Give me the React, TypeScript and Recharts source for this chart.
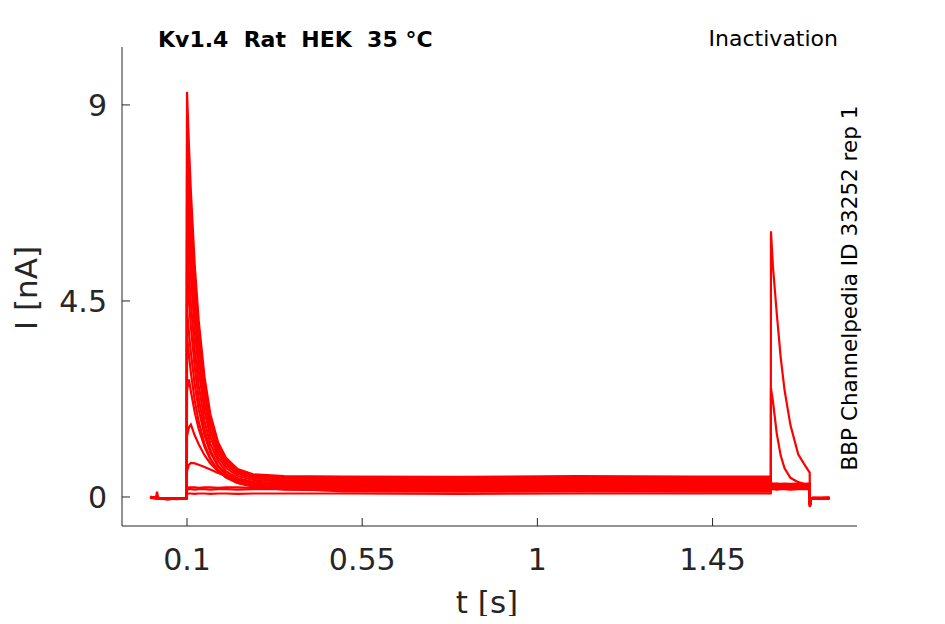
import { Line, LineChart, XAxis, YAxis } from "recharts";

// sample times [s]: baseline, prepulse, test pulse, return
const TIME = [
  0.005, 0.02, 0.023, 0.026, 0.05, 0.075, 0.0995,
  0.1, 0.105, 0.11, 0.12, 0.13, 0.145, 0.16, 0.18, 0.2, 0.23, 0.27, 0.35, 0.5, 0.8, 1.1, 1.4, 1.5995,
  1.6, 1.605, 1.615, 1.625, 1.635, 1.65, 1.67, 1.685, 1.6995,
  1.7, 1.703, 1.707, 1.75,
];

// current sweeps [nA]
const SWEEP_1 = [
  0.01, -0.02, 0.12, -0.03, -0.04, -0.03, -0.02,
  9.3, 8.05, 7.0, 5.3, 4.05, 2.75, 1.9, 1.25, 0.9, 0.64, 0.52, 0.48, 0.47, 0.46, 0.48, 0.47, 0.47,
  0.32, 0.31, 0.31, 0.3, 0.31, 0.3, 0.31, 0.3, 0.31,
  -0.22, -0.05, -0.03, -0.02,
];
const SWEEP_2 = [
  0.0, -0.03, -0.03, -0.03, -0.05, -0.04, -0.03,
  8.7, 7.55, 6.55, 4.95, 3.78, 2.56, 1.78, 1.17, 0.85, 0.61, 0.49, 0.45, 0.44, 0.43, 0.45, 0.44, 0.44,
  0.29, 0.29, 0.3, 0.29, 0.29, 0.28, 0.29, 0.29, 0.29,
  -0.2, -0.04, -0.03, -0.03,
];
const SWEEP_3 = [
  -0.01, -0.02, -0.03, -0.04, -0.05, -0.03, -0.02,
  8.1, 7.0, 6.1, 4.6, 3.5, 2.38, 1.66, 1.09, 0.79, 0.57, 0.46, 0.42, 0.41, 0.4, 0.42, 0.41, 0.41,
  0.28, 0.28, 0.27, 0.28, 0.28, 0.27, 0.28, 0.28, 0.28,
  -0.21, -0.05, -0.02, -0.02,
];
const SWEEP_4 = [
  0.0, -0.01, -0.02, -0.02, -0.04, -0.04, -0.03,
  7.4, 6.4, 5.57, 4.21, 3.2, 2.17, 1.52, 1.0, 0.73, 0.53, 0.43, 0.39, 0.38, 0.37, 0.39, 0.38, 0.38,
  0.27, 0.27, 0.26, 0.27, 0.27, 0.26, 0.27, 0.27, 0.27,
  -0.18, -0.04, -0.03, -0.03,
];
const SWEEP_5 = [
  -0.02, -0.03, -0.02, -0.03, -0.04, -0.05, -0.03,
  6.7, 5.8, 5.04, 3.81, 2.9, 1.97, 1.38, 0.91, 0.67, 0.48, 0.39, 0.36, 0.35, 0.34, 0.36, 0.35, 0.35,
  0.26, 0.26, 0.25, 0.26, 0.26, 0.25, 0.26, 0.26, 0.26,
  -0.2, -0.05, -0.03, -0.02,
];
const SWEEP_6 = [
  0.0, -0.02, -0.02, -0.03, -0.03, -0.04, -0.02,
  5.9, 5.11, 4.44, 3.36, 2.56, 1.74, 1.22, 0.82, 0.59, 0.43, 0.35, 0.32, 0.32, 0.31, 0.33, 0.32, 0.32,
  0.25, 0.25, 0.24, 0.25, 0.25, 0.24, 0.25, 0.25, 0.25,
  -0.17, -0.04, -0.03, -0.03,
];
const SWEEP_7 = [
  -0.01, -0.02, -0.03, -0.03, -0.04, -0.03, -0.03,
  5.2, 4.5, 3.91, 2.96, 2.26, 1.54, 1.08, 0.72, 0.53, 0.39, 0.32, 0.29, 0.29, 0.28, 0.3, 0.29, 0.29,
  0.24, 0.24, 0.23, 0.24, 0.24, 0.23, 0.24, 0.24, 0.24,
  -0.19, -0.05, -0.02, -0.02,
];
const SWEEP_8 = [
  0.0, -0.02, -0.02, -0.02, -0.04, -0.04, -0.02,
  4.3, 3.77, 3.31, 2.57, 2.01, 1.41, 1.02, 0.69, 0.51, 0.37, 0.3, 0.26, 0.26, 0.25, 0.27, 0.26, 0.26,
  0.23, 0.23, 0.22, 0.23, 0.23, 0.22, 0.23, 0.23, 0.23,
  -0.16, -0.04, -0.03, -0.03,
];
const SWEEP_9 = [
  -0.01, -0.03, -0.03, -0.04, -0.05, -0.04, -0.03,
  3.7, 3.25, 2.85, 2.21, 1.73, 1.22, 0.88, 0.6, 0.45, 0.32, 0.26, 0.23, 0.23, 0.22, 0.24, 0.23, 0.23,
  0.22, 0.22, 0.21, 0.22, 0.22, 0.21, 0.22, 0.22, 0.22,
  -0.18, -0.05, -0.03, -0.02,
];
const SWEEP_10 = [
  0.0, -0.02, -0.02, -0.03, -0.03, -0.03, -0.02,
  2.45, 2.7, 2.42, 1.94, 1.56, 1.15, 0.86, 0.61, 0.45, 0.32, 0.24, 0.2, 0.19, 0.18, 0.2, 0.19, 0.19,
  0.21, 0.21, 0.2, 0.21, 0.21, 0.2, 0.21, 0.21, 0.21,
  -0.15, -0.04, -0.02, -0.03,
];
const SWEEP_11 = [
  -0.01, -0.02, -0.03, -0.03, -0.04, -0.04, -0.03,
  1.4, 1.6, 1.66, 1.41, 1.21, 0.96, 0.77, 0.59, 0.46, 0.33, 0.24, 0.17, 0.15, 0.14, 0.16, 0.15, 0.15,
  0.2, 0.2, 0.19, 0.2, 0.2, 0.19, 0.2, 0.2, 0.2,
  -0.17, -0.04, -0.03, -0.03,
];
const SWEEP_12 = [
  0.0, -0.02, -0.02, -0.02, -0.04, -0.03, -0.02,
  0.6, 0.74, 0.78, 0.77, 0.74, 0.69, 0.63, 0.55, 0.48, 0.39, 0.3, 0.2, 0.13, 0.12, 0.13, 0.12, 0.12,
  0.19, 0.19, 0.18, 0.19, 0.19, 0.18, 0.19, 0.19, 0.19,
  -0.14, -0.04, -0.03, -0.02,
];
const SWEEP_13 = [
  -0.01, -0.03, -0.02, -0.03, -0.05, -0.04, -0.03,
  0.2, 0.22, 0.22, 0.22, 0.21, 0.22, 0.22, 0.21, 0.22, 0.22, 0.21, 0.22, 0.22, 0.21, 0.22, 0.22, 0.22,
  2.5, 2.2, 1.45, 0.95, 0.66, 0.44, 0.34, 0.3, 0.28,
  -0.23, -0.05, -0.03, -0.03,
];
const SWEEP_14 = [
  0.0, -0.02, -0.02, -0.03, -0.04, -0.03, -0.02,
  0.17, 0.18, 0.18, 0.17, 0.18, 0.18, 0.17, 0.18, 0.18, 0.17, 0.18, 0.18, 0.18, 0.17, 0.18, 0.18, 0.18,
  0.18, 0.18, 0.17, 0.18, 0.18, 0.17, 0.18, 0.18, 0.18,
  -0.16, -0.04, -0.02, -0.02,
];
const SWEEP_15 = [
  -0.01, -0.02, -0.03, -0.03, -0.04, -0.04, -0.03,
  0.07, 0.08, 0.08, 0.07, 0.08, 0.08, 0.07, 0.08, 0.08, 0.07, 0.08, 0.08, 0.08, 0.07, 0.08, 0.08, 0.08,
  6.1, 5.3, 4.2, 3.2, 2.45, 1.65, 0.98, 0.76, 0.56,
  -0.22, -0.05, -0.03, -0.03,
];

const SWEEPS = [
  SWEEP_1, SWEEP_2, SWEEP_3, SWEEP_4, SWEEP_5, SWEEP_6, SWEEP_7, SWEEP_8,
  SWEEP_9, SWEEP_10, SWEEP_11, SWEEP_12, SWEEP_13, SWEEP_14, SWEEP_15,
];

const X_TICKS = [0.1, 0.55, 1, 1.45];
const Y_TICKS = [0, 4.5, 9];

const INK = "#262626";
const FONT = "DejaVu Sans";

function XTick(props: any) {
  const { x, y, payload } = props;
  return (
    <g>
      <line x1={x} y1={y} x2={x} y2={y - 8} stroke={INK} strokeWidth={1} />
      <text x={x} y={y + 44} textAnchor="middle" fontSize={30} fill={INK} fontFamily={FONT}>
        {String(payload.value)}
      </text>
    </g>
  );
}

function YTick(props: any) {
  const { x, y, payload } = props;
  return (
    <g>
      <line x1={x} y1={y} x2={x + 8} y2={y} stroke={INK} strokeWidth={1} />
      <text x={x - 15} y={y} dy="0.36em" textAnchor="end" fontSize={30} fill={INK} fontFamily={FONT}>
        {String(payload.value)}
      </text>
    </g>
  );
}

export default function App() {
  const series = SWEEPS.map((sweep) => TIME.map((t, k) => ({ t, i: sweep[k] })));

  return (
    <div style={{ position: "relative", width: 929, height: 608, fontFamily: FONT }}>
      <LineChart width={929} height={608} margin={{ top: 39, right: 80, left: 0, bottom: 0 }}>
        <XAxis
          dataKey="t"
          type="number"
          domain={[-0.067, 1.821]}
          ticks={X_TICKS}
          allowDataOverflow
          height={90}
          tickLine={false}
          tickSize={0}
          tickMargin={0}
          tick={<XTick />}
          axisLine={{ stroke: INK, strokeWidth: 1 }}
        />
        <YAxis
          type="number"
          domain={[-0.666, 10.33]}
          ticks={Y_TICKS}
          allowDataOverflow
          width={114}
          tickLine={false}
          tickSize={0}
          tickMargin={0}
          tick={<YTick />}
          axisLine={{ stroke: INK, strokeWidth: 1 }}
        />
        {series.map((data, n) => (
          <Line
            key={n}
            data={data}
            dataKey="i"
            type="linear"
            stroke="#ff0000"
            strokeWidth={2.2}
            dot={false}
            activeDot={false}
            isAnimationActive={false}
          />
        ))}
      </LineChart>
      <svg
        width={929}
        height={608}
        style={{ position: "absolute", left: 0, top: 0, pointerEvents: "none", overflow: "visible" }}
        fontFamily={FONT}
      >
        <text x={150} y={38.7} fontSize={22} fontWeight="bold" fill="#000" style={{ whiteSpace: "pre" }}>
          {"Kv1.4  Rat  HEK  35 °C"}
        </text>
        <text x={830} y={38} fontSize={22} textAnchor="end" fill="#000">
          Inactivation
        </text>
        <text
          x={849}
          y={280}
          fontSize={21.5}
          textAnchor="middle"
          fill="#000"
          transform="rotate(-90 849 280)"
        >
          BBP Channelpedia ID 33252 rep 1
        </text>
        <text
          x={29}
          y={280}
          fontSize={31}
          textAnchor="middle"
          fill={INK}
          transform="rotate(-90 29 280)"
        >
          I [nA]
        </text>
        <text x={479} y={605} fontSize={31} textAnchor="middle" fill={INK}>
          t [s]
        </text>
      </svg>
    </div>
  );
}
